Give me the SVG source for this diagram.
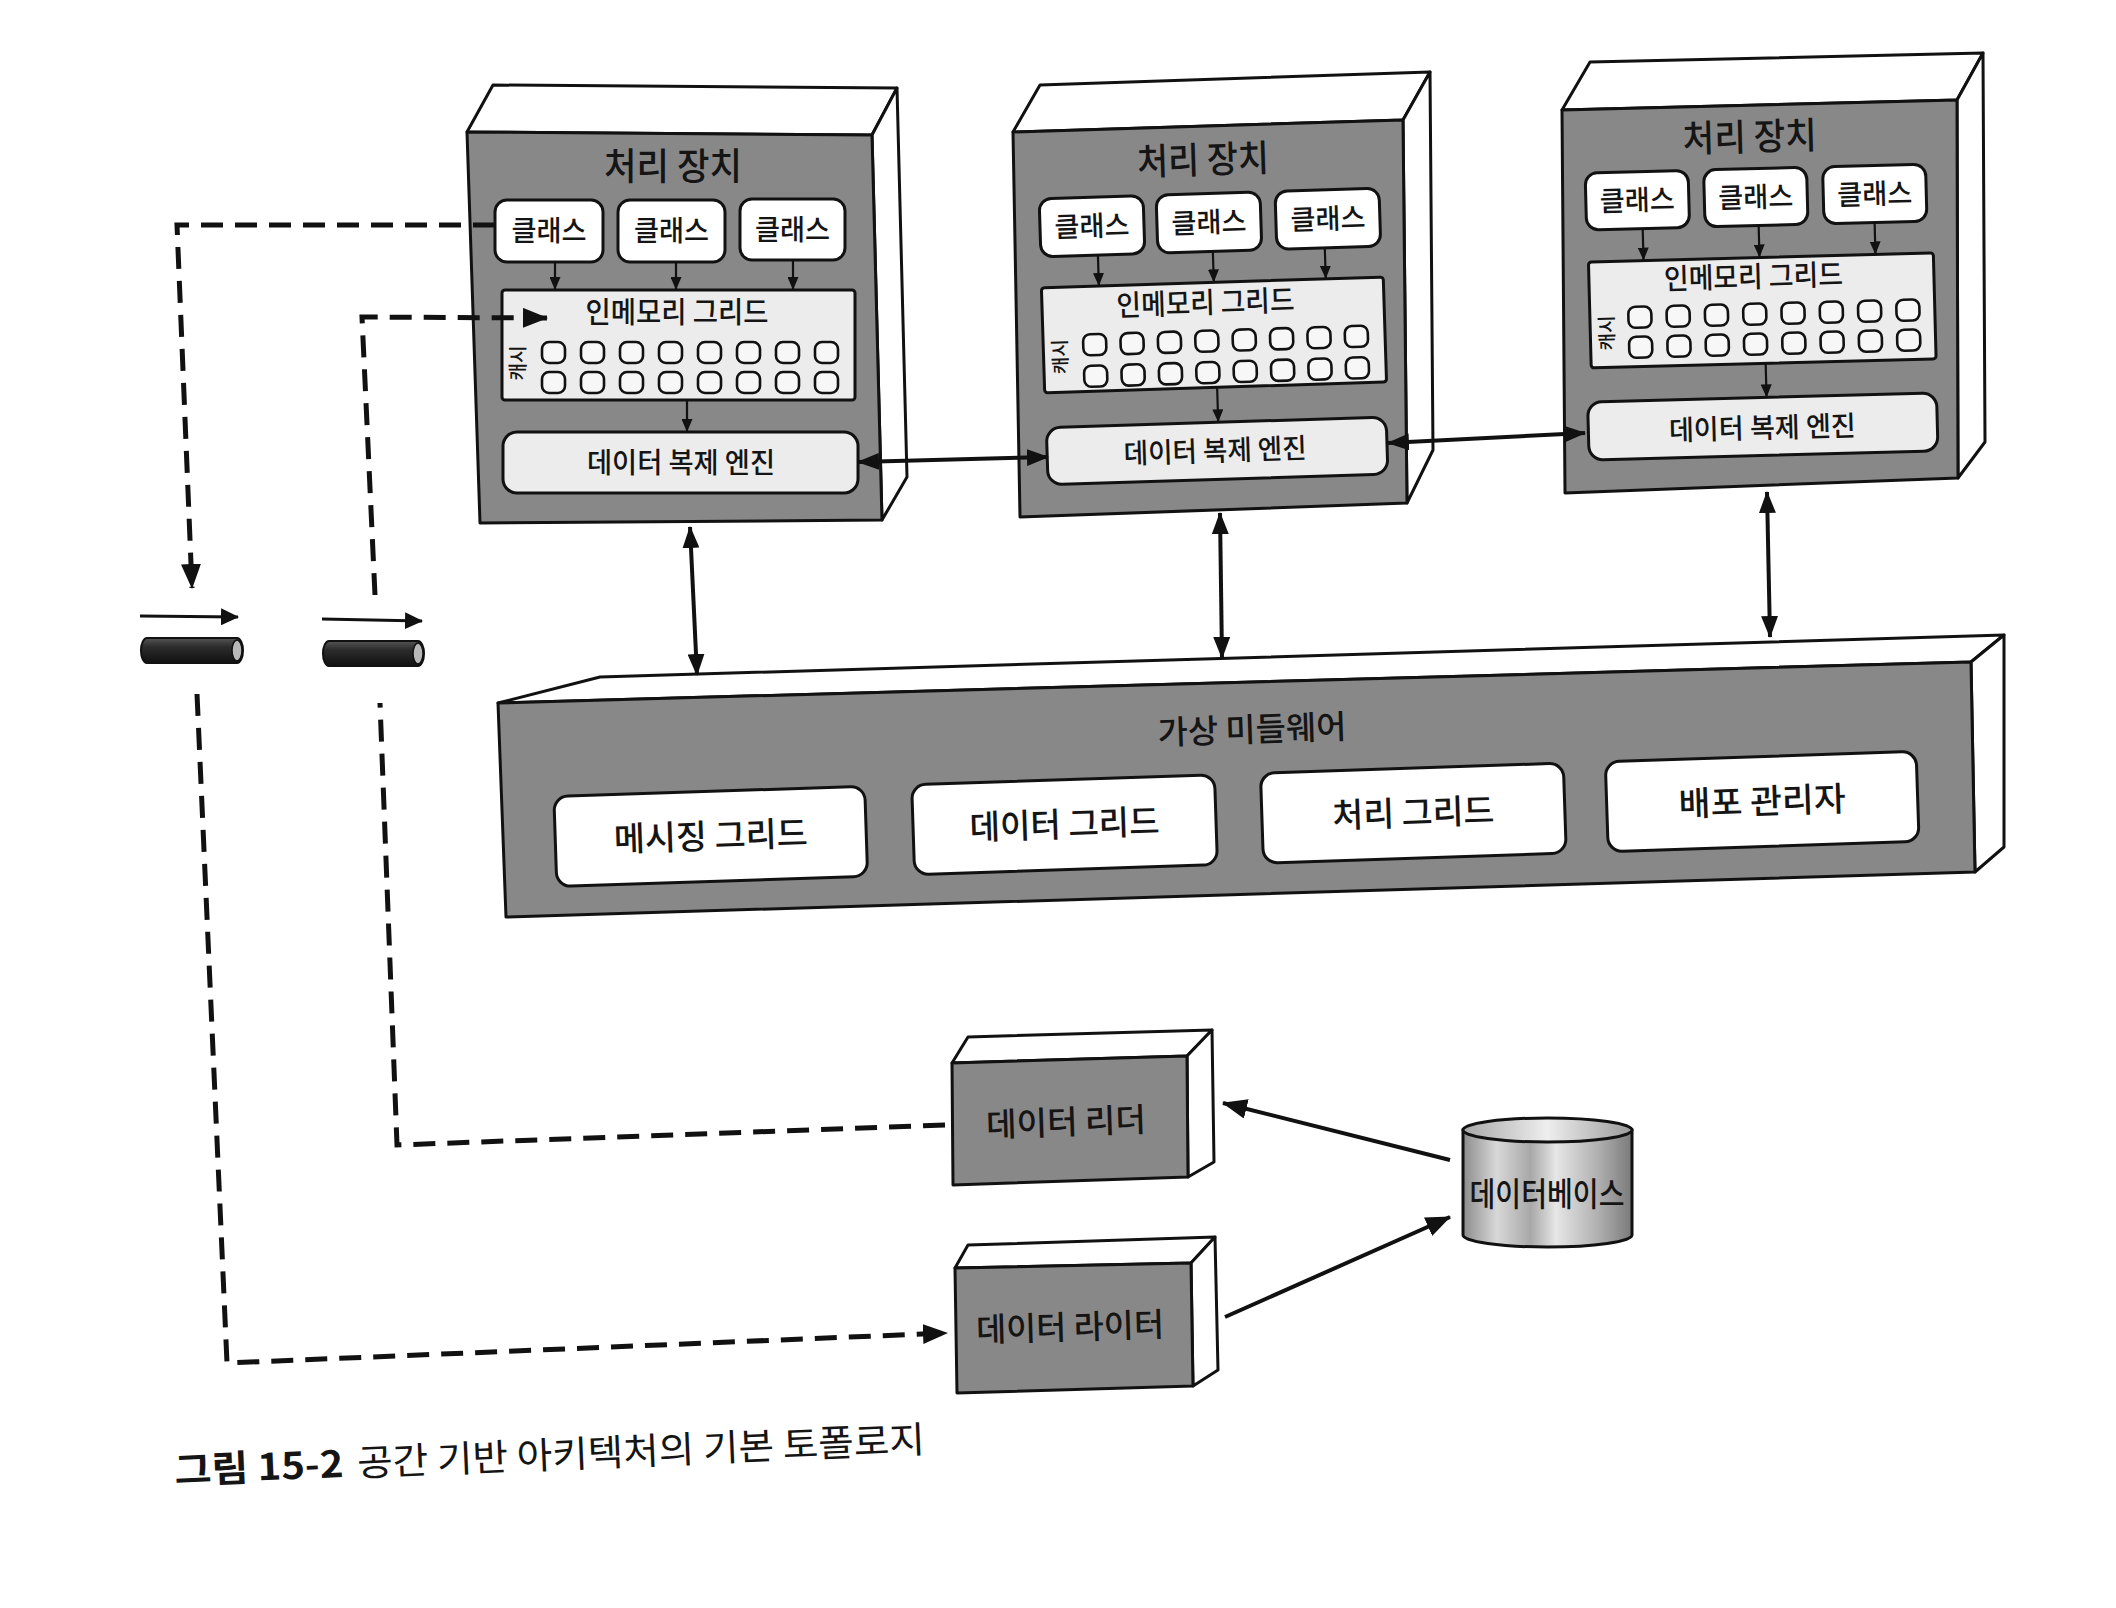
<svg xmlns="http://www.w3.org/2000/svg" width="2116" height="1608" viewBox="0 0 2116 1608">
<defs>
<style>
.face{fill:#888888;stroke:#111;stroke-width:3;stroke-linejoin:round}
.side{fill:#fff;stroke:#111;stroke-width:3;stroke-linejoin:round}
.wbox{fill:#fff;stroke:#111;stroke-width:3}
.lbox{fill:#ececec;stroke:#111;stroke-width:3}
.cell{fill:#f7f7f7;stroke:#111;stroke-width:2.6}
.t{font-family:"Noto Sans CJK KR","Noto Sans CJK SC",sans-serif;font-weight:500;fill:#151515;text-anchor:middle}
.conn{fill:none;stroke:#111;stroke-width:4}
.thin{fill:none;stroke:#111;stroke-width:2.2}
.dash{fill:none;stroke:#111;stroke-width:5;stroke-dasharray:22 12}
.tubearrow{fill:none;stroke:#111;stroke-width:3}
</style>
<marker id="mBig" markerUnits="userSpaceOnUse" markerWidth="22" markerHeight="17" refX="21" refY="8.5" orient="auto-start-reverse"><path d="M0,0 L22,8.5 L0,17 Z" fill="#111"/></marker>
<marker id="mSmall" markerUnits="userSpaceOnUse" markerWidth="13" markerHeight="11" refX="13" refY="5.5" orient="auto"><path d="M0,0 L13,5.5 L0,11 Z" fill="#111"/></marker>
<marker id="mDash" markerUnits="userSpaceOnUse" markerWidth="25" markerHeight="20" refX="24" refY="10" orient="auto"><path d="M0,0 L25,10 L0,20 Z" fill="#111"/></marker>
<marker id="mDb" markerUnits="userSpaceOnUse" markerWidth="25" markerHeight="20" refX="24" refY="10" orient="auto"><path d="M0,0 L25,10 L0,20 Z" fill="#111"/></marker>
<marker id="mTube" markerUnits="userSpaceOnUse" markerWidth="18" markerHeight="17" refX="17" refY="8.5" orient="auto"><path d="M0,0 L18,8.5 L0,17 Z" fill="#111"/></marker>
<linearGradient id="tubeG" x1="0" y1="0" x2="0" y2="1">
<stop offset="0" stop-color="#555"/><stop offset="0.35" stop-color="#2c2c2c"/><stop offset="1" stop-color="#111"/>
</linearGradient>
<linearGradient id="dbG" x1="0" y1="0" x2="1" y2="0">
<stop offset="0" stop-color="#8c8c8c"/><stop offset="0.2" stop-color="#d8d8d8"/><stop offset="0.4" stop-color="#a8a8a8"/><stop offset="0.55" stop-color="#e6e6e6"/><stop offset="0.8" stop-color="#b0b0b0"/><stop offset="1" stop-color="#7a7a7a"/>
</linearGradient>
<linearGradient id="dbTop" x1="0" y1="0" x2="1" y2="0">
<stop offset="0" stop-color="#a8a8a8"/><stop offset="0.5" stop-color="#eeeeee"/><stop offset="1" stop-color="#9a9a9a"/>
</linearGradient>
</defs>
<rect x="0" y="0" width="2116" height="1608" fill="#fff"/>

<!-- Processing unit 1 -->
<g id="pu1">
<polygon class="side" points="467,132 493,85 897,88 872,135"/>
<polygon class="side" points="872,135 897,88 907,477 882,520"/>
<polygon class="face" points="467,132 872,135 882,520 480,523"/>
<text class="t" x="673" y="180" font-size="37" textLength="138" lengthAdjust="spacingAndGlyphs">처리 장치</text>
<rect class="wbox" x="495" y="200" width="108" height="62" rx="12"/>
<rect class="wbox" x="618" y="200" width="107" height="62" rx="12"/>
<rect class="wbox" x="740" y="199" width="105" height="61" rx="12"/>
<text class="t" x="549" y="241" font-size="28" textLength="75" lengthAdjust="spacingAndGlyphs">클래스</text>
<text class="t" x="671.5" y="241" font-size="28" textLength="75" lengthAdjust="spacingAndGlyphs">클래스</text>
<text class="t" x="792.5" y="240" font-size="28" textLength="75" lengthAdjust="spacingAndGlyphs">클래스</text>
<line class="thin" x1="555" y1="262" x2="555" y2="290" marker-end="url(#mSmall)"/>
<line class="thin" x1="676" y1="262" x2="676" y2="290" marker-end="url(#mSmall)"/>
<line class="thin" x1="793" y1="260" x2="793" y2="290" marker-end="url(#mSmall)"/>
<rect class="lbox" x="502" y="290" width="353" height="110" rx="3"/>
<text class="t" x="677" y="323" font-size="29" textLength="183" lengthAdjust="spacingAndGlyphs">인메모리 그리드</text>
<text class="t" x="0" y="0" font-size="19" transform="translate(525,363) rotate(-90)">캐시</text>
<g>
<rect class="cell" x="542" y="342" width="23" height="21" rx="7"/><rect class="cell" x="581" y="342" width="23" height="21" rx="7"/><rect class="cell" x="620" y="342" width="23" height="21" rx="7"/><rect class="cell" x="659" y="342" width="23" height="21" rx="7"/><rect class="cell" x="698" y="342" width="23" height="21" rx="7"/><rect class="cell" x="737" y="342" width="23" height="21" rx="7"/><rect class="cell" x="776" y="342" width="23" height="21" rx="7"/><rect class="cell" x="815" y="342" width="23" height="21" rx="7"/>
<rect class="cell" x="542" y="372" width="23" height="21" rx="7"/><rect class="cell" x="581" y="372" width="23" height="21" rx="7"/><rect class="cell" x="620" y="372" width="23" height="21" rx="7"/><rect class="cell" x="659" y="372" width="23" height="21" rx="7"/><rect class="cell" x="698" y="372" width="23" height="21" rx="7"/><rect class="cell" x="737" y="372" width="23" height="21" rx="7"/><rect class="cell" x="776" y="372" width="23" height="21" rx="7"/><rect class="cell" x="815" y="372" width="23" height="21" rx="7"/>
</g>
<line class="thin" x1="687" y1="400" x2="687" y2="432" marker-end="url(#mSmall)"/>
<rect class="lbox" x="503" y="432" width="355" height="61" rx="14"/>
<text class="t" x="681" y="473" font-size="28" textLength="188" lengthAdjust="spacingAndGlyphs">데이터 복제 엔진</text>
</g>

<!-- Processing unit 2 -->
<g id="pu2">
<polygon class="side" points="1013,132 1040,85 1430,72 1403,120"/>
<polygon class="side" points="1403,120 1430,72 1433,450 1407,503"/>
<polygon class="face" points="1013,132 1403,120 1407,503 1020,517"/>
<g transform="rotate(-1.8 1210 320)">
<text class="t" x="1208" y="173" font-size="37" textLength="132" lengthAdjust="spacingAndGlyphs">처리 장치</text>
<rect class="wbox" x="1043" y="193.5" width="104" height="58" rx="12"/>
<rect class="wbox" x="1160" y="193.5" width="104" height="58" rx="12"/>
<rect class="wbox" x="1279" y="193.5" width="104" height="58" rx="12"/>
<text class="t" x="1095" y="232.5" font-size="28" textLength="75" lengthAdjust="spacingAndGlyphs">클래스</text>
<text class="t" x="1212" y="232.5" font-size="28" textLength="75" lengthAdjust="spacingAndGlyphs">클래스</text>
<text class="t" x="1331" y="232.5" font-size="28" textLength="75" lengthAdjust="spacingAndGlyphs">클래스</text>
<line class="thin" x1="1100" y1="251.5" x2="1100" y2="282.5" marker-end="url(#mSmall)"/>
<line class="thin" x1="1215" y1="251.5" x2="1215" y2="282.5" marker-end="url(#mSmall)"/>
<line class="thin" x1="1327" y1="251.5" x2="1327" y2="282.5" marker-end="url(#mSmall)"/>
<rect class="lbox" x="1042.5" y="282.5" width="342" height="105" rx="3"/>
<text class="t" x="1206" y="313" font-size="29" textLength="178" lengthAdjust="spacingAndGlyphs">인메모리 그리드</text>
<text class="t" x="0" y="0" font-size="19" transform="translate(1066,352) rotate(-90)">캐시</text>
<g>
<rect class="cell" x="1082.5" y="330.5" width="23" height="21" rx="7"/><rect class="cell" x="1119.9" y="330.5" width="23" height="21" rx="7"/><rect class="cell" x="1157.3" y="330.5" width="23" height="21" rx="7"/><rect class="cell" x="1194.7" y="330.5" width="23" height="21" rx="7"/><rect class="cell" x="1232.1" y="330.5" width="23" height="21" rx="7"/><rect class="cell" x="1269.5" y="330.5" width="23" height="21" rx="7"/><rect class="cell" x="1306.9" y="330.5" width="23" height="21" rx="7"/><rect class="cell" x="1344.3" y="330.5" width="23" height="21" rx="7"/>
<rect class="cell" x="1082.5" y="362" width="23" height="21" rx="7"/><rect class="cell" x="1119.9" y="362" width="23" height="21" rx="7"/><rect class="cell" x="1157.3" y="362" width="23" height="21" rx="7"/><rect class="cell" x="1194.7" y="362" width="23" height="21" rx="7"/><rect class="cell" x="1232.1" y="362" width="23" height="21" rx="7"/><rect class="cell" x="1269.5" y="362" width="23" height="21" rx="7"/><rect class="cell" x="1306.9" y="362" width="23" height="21" rx="7"/><rect class="cell" x="1344.3" y="362" width="23" height="21" rx="7"/>
</g>
<line class="thin" x1="1215" y1="387.5" x2="1215" y2="422.5" marker-end="url(#mSmall)"/>
<rect class="lbox" x="1043" y="422.5" width="340" height="57" rx="14"/>
<text class="t" x="1211" y="461" font-size="28" textLength="183" lengthAdjust="spacingAndGlyphs">데이터 복제 엔진</text>
</g>
</g>

<!-- Processing unit 3 -->
<g id="pu3">
<polygon class="side" points="1562,110 1590,62 1983,53 1957,100"/>
<polygon class="side" points="1957,100 1983,53 1985,442 1958,478"/>
<polygon class="face" points="1562,110 1957,100 1958,478 1565,493"/>
<g transform="rotate(-1.5 1760 300)">
<text class="t" x="1754" y="150" font-size="37" textLength="134" lengthAdjust="spacingAndGlyphs">처리 장치</text>
<rect class="wbox" x="1588.5" y="168.5" width="103" height="57" rx="12"/>
<rect class="wbox" x="1707" y="168.5" width="103" height="57" rx="12"/>
<rect class="wbox" x="1826" y="168.5" width="103" height="57" rx="12"/>
<text class="t" x="1640" y="207" font-size="28" textLength="75" lengthAdjust="spacingAndGlyphs">클래스</text>
<text class="t" x="1758.5" y="207" font-size="28" textLength="75" lengthAdjust="spacingAndGlyphs">클래스</text>
<text class="t" x="1877.5" y="207" font-size="28" textLength="75" lengthAdjust="spacingAndGlyphs">클래스</text>
<line class="thin" x1="1644.6" y1="225.5" x2="1644.6" y2="257.5" marker-end="url(#mSmall)"/>
<line class="thin" x1="1760.6" y1="225.5" x2="1760.6" y2="257.5" marker-end="url(#mSmall)"/>
<line class="thin" x1="1876.6" y1="225.5" x2="1876.6" y2="257.5" marker-end="url(#mSmall)"/>
<rect class="lbox" x="1589.5" y="257.5" width="345" height="106" rx="3"/>
<text class="t" x="1754" y="287" font-size="29" textLength="179" lengthAdjust="spacingAndGlyphs">인메모리 그리드</text>
<text class="t" x="0" y="0" font-size="19" transform="translate(1613,329) rotate(-90)">캐시</text>
<g>
<rect class="cell" x="1628" y="303.5" width="23" height="21" rx="7"/><rect class="cell" x="1666.3" y="303.5" width="23" height="21" rx="7"/><rect class="cell" x="1704.6" y="303.5" width="23" height="21" rx="7"/><rect class="cell" x="1742.9" y="303.5" width="23" height="21" rx="7"/><rect class="cell" x="1781.2" y="303.5" width="23" height="21" rx="7"/><rect class="cell" x="1819.5" y="303.5" width="23" height="21" rx="7"/><rect class="cell" x="1857.8" y="303.5" width="23" height="21" rx="7"/><rect class="cell" x="1896.1" y="303.5" width="23" height="21" rx="7"/>
<rect class="cell" x="1628" y="333.5" width="23" height="21" rx="7"/><rect class="cell" x="1666.3" y="333.5" width="23" height="21" rx="7"/><rect class="cell" x="1704.6" y="333.5" width="23" height="21" rx="7"/><rect class="cell" x="1742.9" y="333.5" width="23" height="21" rx="7"/><rect class="cell" x="1781.2" y="333.5" width="23" height="21" rx="7"/><rect class="cell" x="1819.5" y="333.5" width="23" height="21" rx="7"/><rect class="cell" x="1857.8" y="333.5" width="23" height="21" rx="7"/><rect class="cell" x="1896.1" y="333.5" width="23" height="21" rx="7"/>
</g>
<line class="thin" x1="1764" y1="363.5" x2="1764" y2="397.5" marker-end="url(#mSmall)"/>
<rect class="lbox" x="1585" y="397.5" width="349" height="58" rx="14"/>
<text class="t" x="1759" y="438" font-size="28" textLength="187" lengthAdjust="spacingAndGlyphs">데이터 복제 엔진</text>
</g>
</g>

<!-- Virtualized middleware -->
<g id="middleware">
<polygon class="side" points="498,703 600,677 2004,635 1971,662"/>
<polygon class="side" points="1971,662 2004,635 2004,847 1975,872"/>
<polygon class="face" points="498,703 1971,662 1975,872 506,917"/>
<g transform="rotate(-1.9 1235 790)">
<text class="t" x="1254" y="742" font-size="33" textLength="189" lengthAdjust="spacingAndGlyphs">가상 미들웨어</text>
<rect class="wbox" x="554" y="774" width="311" height="90" rx="14"/>
<rect class="wbox" x="912" y="774" width="303" height="90" rx="14"/>
<rect class="wbox" x="1261" y="774" width="303" height="90" rx="14"/>
<rect class="wbox" x="1606" y="774" width="311" height="90" rx="14"/>
<text class="t" x="709.5" y="831" font-size="34" textLength="194" lengthAdjust="spacingAndGlyphs">메시징 그리드</text>
<text class="t" x="1063.5" y="831" font-size="34" textLength="190" lengthAdjust="spacingAndGlyphs">데이터 그리드</text>
<text class="t" x="1412.5" y="831" font-size="34" textLength="162" lengthAdjust="spacingAndGlyphs">처리 그리드</text>
<text class="t" x="1761.5" y="831" font-size="34" textLength="167" lengthAdjust="spacingAndGlyphs">배포 관리자</text>
</g>
</g>

<!-- Tubes (message queues) -->
<g id="tube1">
<line class="tubearrow" x1="140" y1="616" x2="238" y2="617" marker-end="url(#mTube)"/>
<path d="M147,638 L237,638 A6,12.5 0 0 1 237,663 L147,663 A6,12.5 0 0 1 147,638 Z" fill="url(#tubeG)" stroke="#111" stroke-width="2"/>
<ellipse cx="237" cy="650.5" rx="5" ry="10.5" fill="#b8b8b8" stroke="#111" stroke-width="1.5"/>
</g>
<g id="tube2">
<line class="tubearrow" x1="322" y1="619" x2="422" y2="621" marker-end="url(#mTube)"/>
<path d="M329,641 L418,641 A6,12.5 0 0 1 418,666 L329,666 A6,12.5 0 0 1 329,641 Z" fill="url(#tubeG)" stroke="#111" stroke-width="2"/>
<ellipse cx="418" cy="653.5" rx="5" ry="10.5" fill="#b8b8b8" stroke="#111" stroke-width="1.5"/>
</g>

<!-- Data reader -->
<g id="data-reader">
<polygon class="side" points="952,1063 968,1037 1212,1030 1187,1056"/>
<polygon class="side" points="1187,1056 1212,1030 1214,1162 1188,1177"/>
<polygon class="face" points="952,1063 1187,1056 1188,1177 953,1185"/>
<text class="t" x="1066" y="1134" font-size="33" textLength="160" lengthAdjust="spacingAndGlyphs" transform="rotate(-1.9 1066 1122)">데이터 리더</text>
</g>

<!-- Data writer -->
<g id="data-writer">
<polygon class="side" points="955,1268 968,1245 1215,1237 1191,1263"/>
<polygon class="side" points="1191,1263 1215,1237 1218,1370 1193,1386"/>
<polygon class="face" points="955,1268 1191,1263 1193,1386 957,1393"/>
<text class="t" x="1070" y="1339" font-size="33" textLength="188" lengthAdjust="spacingAndGlyphs" transform="rotate(-1.7 1070 1327)">데이터 라이터</text>
</g>

<!-- Database -->
<g id="database">
<path d="M1463,1130 L1463,1235 A84.5,12 0 0 0 1632,1235 L1632,1130 Z" fill="url(#dbG)" stroke="#111" stroke-width="3"/>
<ellipse cx="1547.5" cy="1130" rx="84.5" ry="12" fill="url(#dbTop)" stroke="#111" stroke-width="3"/>
<text class="t" x="1547" y="1206" font-size="33" textLength="155" lengthAdjust="spacingAndGlyphs">데이터베이스</text>
</g>

<!-- Connectors -->
<g id="connectors">
<line class="conn" x1="858" y1="462" x2="1048" y2="457" marker-start="url(#mBig)" marker-end="url(#mBig)"/>
<line class="conn" x1="1388" y1="443" x2="1585" y2="433" marker-start="url(#mBig)" marker-end="url(#mBig)"/>
<line class="conn" x1="690" y1="527" x2="697" y2="675" marker-start="url(#mBig)" marker-end="url(#mBig)"/>
<line class="conn" x1="1220" y1="513" x2="1222" y2="658" marker-start="url(#mBig)" marker-end="url(#mBig)"/>
<line class="conn" x1="1767" y1="492" x2="1770" y2="637" marker-start="url(#mBig)" marker-end="url(#mBig)"/>
<line class="conn" x1="1450" y1="1160" x2="1223" y2="1103" stroke-width="5" marker-end="url(#mDb)"/>
<line class="conn" x1="1225" y1="1317" x2="1450" y2="1217" stroke-width="5" marker-end="url(#mDb)"/>
<path class="dash" d="M495,225 L177,225 L192,588" marker-end="url(#mDash)"/>
<path class="dash" d="M197,694 L227,1363 L947,1333" marker-end="url(#mDash)"/>
<path class="dash" d="M945,1125 L397,1145 L380,703"/>
<path class="dash" d="M375,595 L362,317 L547,318" marker-end="url(#mDash)"/>
</g>

<!-- Caption -->
<text id="caption" x="175" y="1484" font-family="'Noto Sans CJK KR','Noto Sans CJK SC',sans-serif" font-size="37" fill="#151515" transform="rotate(-2.4 175 1484)"><tspan font-weight="bold" textLength="169" lengthAdjust="spacingAndGlyphs">그림 15-2</tspan><tspan x="358" textLength="568" lengthAdjust="spacingAndGlyphs">공간 기반 아키텍처의 기본 토폴로지</tspan></text>
</svg>
